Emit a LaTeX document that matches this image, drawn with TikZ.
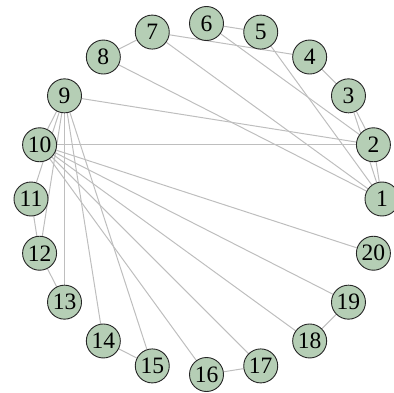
\documentclass[tikz,border=0pt]{standalone}
\usepackage{fontspec}
\setmainfont{Liberation Serif}
\usetikzlibrary{backgrounds}
\definecolor{nodefill}{RGB}{181,206,181}
\definecolor{edgecol}{RGB}{190,190,190}
\begin{document}
\begin{tikzpicture}[x=1pt,y=1pt,
  vert/.style={circle,draw=black!85,fill=nodefill,line width=0.9pt,minimum size=34pt,inner sep=0pt,font=\fontsize{23.5}{23.5}\selectfont},
  edge/.style={draw=edgecol,line width=1pt}]
\useasboundingbox (0,0) rectangle (394,392);
\foreach \i in {1,...,20} {
  \node[vert] (n\i) at ({206.5+175.5*cos((\i-1)*18)},{193+175.5*sin((\i-1)*18)}) {\i};
}
\begin{scope}[on background layer]
\foreach \a/\b in {1/2,2/3,1/3,3/4,5/6,7/8,14/15,16/17,18/19,11/12,12/13,5/1,6/2,7/4,7/1,8/1,9/2,10/2,9/10,9/11,9/12,9/13,9/14,9/15,10/16,10/17,10/18,10/19,10/20} {
  \draw[edge] (n\a) -- (n\b);
}
\end{scope}
\end{tikzpicture}
\end{document}
